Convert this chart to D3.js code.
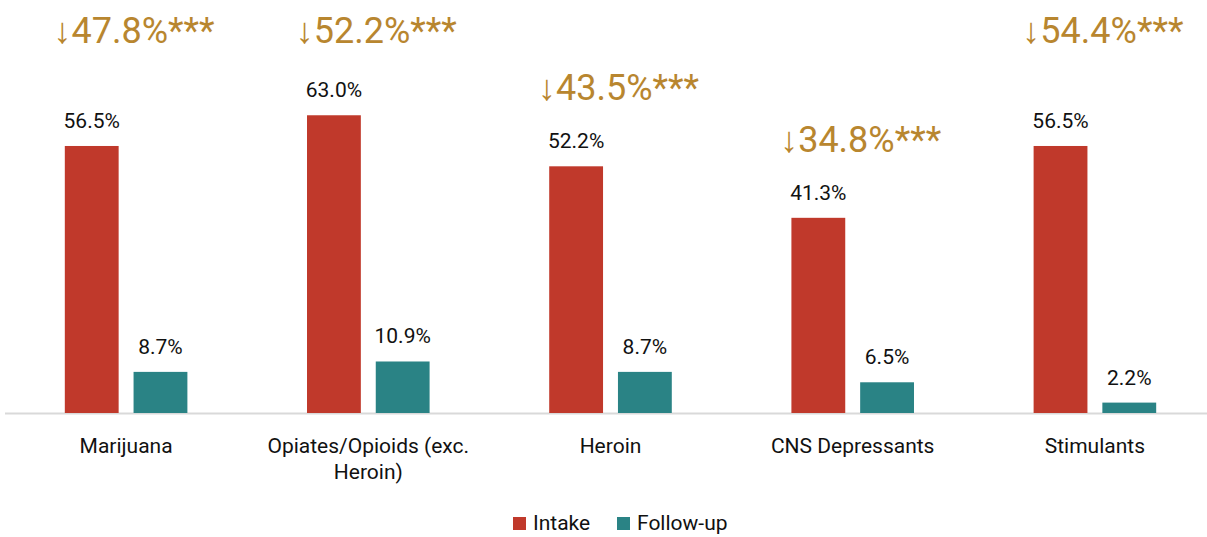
<!DOCTYPE html>
<html>
<head>
<meta charset="utf-8">
<script src="https://cdn.jsdelivr.net/npm/d3@7"></script>
<style>
  body { margin: 0; background: #fff; }
  text { font-family: Roboto, "Noto Sans", sans-serif; }
</style>
</head>
<body>
<script>
// chart data
const categories = ["Marijuana", "Opiates/Opioids (exc. Heroin)", "Heroin", "CNS Depressants", "Stimulants"];
const labelLines = [["Marijuana"], ["Opiates/Opioids (exc.", "Heroin)"], ["Heroin"], ["CNS Depressants"], ["Stimulants"]];
const intake = [56.5, 63.0, 52.2, 41.3, 56.5];
const followUp = [8.7, 10.9, 8.7, 6.5, 2.2];
const decrease = ["47.8%", "52.2%", "43.5%", "34.8%", "54.4%"];
const seriesNames = ["Intake", "Follow-up"];
const colors = ["#C0392B", "#2A8385"];

const width = 1207;
const height = 537;
const margin = { top: 0, right: -9, bottom: 124, left: 5 };
const baseY = height - margin.bottom;

const svg = d3.select("body").append("svg")
    .attr("width", width)
    .attr("height", height);

// scales
const x0 = d3.scaleBand()
    .domain(categories)
    .range([margin.left, width - margin.right])
    .paddingInner(0)
    .paddingOuter(0);

const x1 = d3.scaleBand()
    .domain(seriesNames)
    .range([0, x0.bandwidth()])
    .paddingInner(0.217)
    .paddingOuter(0.87);

const y = d3.scaleLinear()
    .domain([0, 100])
    .range([baseY, baseY - 472.6]);

const rows = categories.map((c, i) => ({ cat: c, i, vals: [intake[i], followUp[i]] }));

// axis line
svg.append("line")
    .attr("x1", margin.left).attr("x2", width)
    .attr("y1", baseY + 0.5).attr("y2", baseY + 0.5)
    .attr("stroke", "#d9d9d9")
    .attr("stroke-width", 2);

const groups = svg.selectAll(".grp")
    .data(rows)
    .enter().append("g")
    .attr("class", "grp")
    .attr("transform", d => `translate(${x0(d.cat)},0)`);

groups.selectAll("rect")
    .data(d => d.vals.map((v, k) => ({ v, k })))
    .enter().append("rect")
    .attr("x", d => x1(seriesNames[d.k]))
    .attr("y", d => y(d.v))
    .attr("width", x1.bandwidth())
    .attr("height", d => baseY - y(d.v))
    .attr("fill", d => colors[d.k]);

// value labels
groups.selectAll(".val")
    .data(d => d.vals.map((v, k) => ({ v, k })))
    .enter().append("text")
    .attr("class", "val")
    .attr("x", d => x1(seriesNames[d.k]) + x1.bandwidth() / 2)
    .attr("y", d => y(d.v) - 18)
    .attr("text-anchor", "middle")
    .attr("font-size", 21)
    .attr("fill", "#111")
    .text(d => d.v.toFixed(1) + "%");

// category labels
groups.append("text")
    .attr("text-anchor", "middle")
    .attr("font-size", 21)
    .attr("fill", "#111")
    .selectAll("tspan")
    .data(d => labelLines[d.i])
    .enter().append("tspan")
    .attr("x", x0.bandwidth() / 2)
    .attr("y", (d, j) => baseY + 40 + j * 26)
    .text(d => d);

// decrease annotations
groups.append("text")
    .attr("text-anchor", "middle")
    .attr("x", x0.bandwidth() / 2 + 8)
    .attr("y", d => d.vals[0] > 55 ? 43 : y(d.vals[0]) - 66)
    .attr("font-size", 36)
    .attr("fill", "#B8862F")
    .text(d => "\u2193" + decrease[d.i] + "***");

// legend
const legend = svg.append("g")
    .attr("transform", `translate(513,517)`);
const legX = [0, 104];
seriesNames.forEach((s, k) => {
    legend.append("rect")
        .attr("x", legX[k]).attr("y", 0)
        .attr("width", 13).attr("height", 13)
        .attr("fill", colors[k]);
    legend.append("text")
        .attr("x", legX[k] + 20).attr("y", 13)
        .attr("font-size", 21)
        .attr("fill", "#111")
        .text(s);
});
</script>
</body>
</html>
